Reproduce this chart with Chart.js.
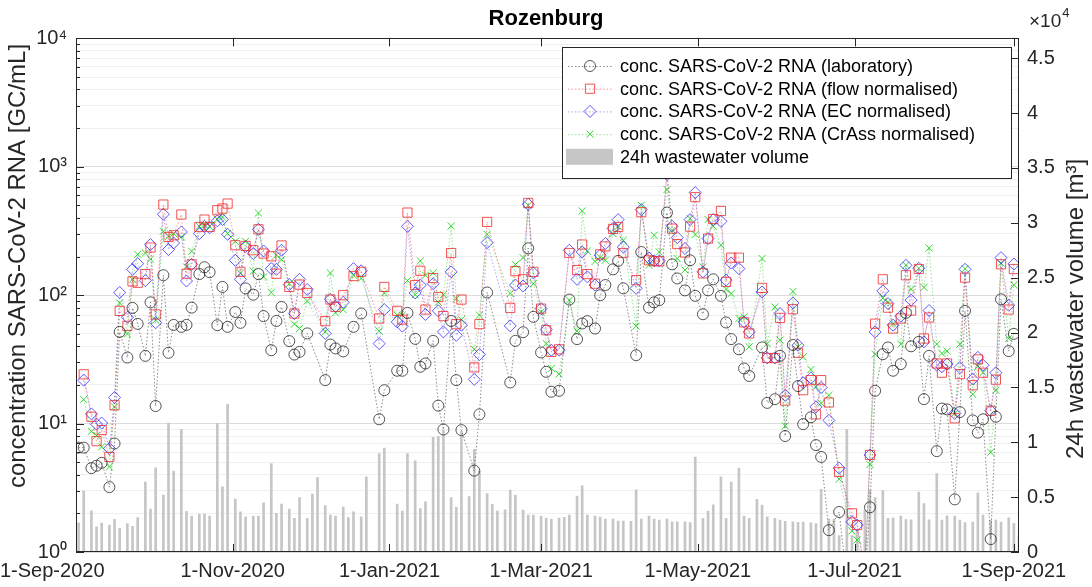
<!DOCTYPE html>
<html>
<head>
<meta charset="utf-8">
<script src="https://cdn.jsdelivr.net/npm/chart.js@4.4.1/dist/chart.umd.min.js"></script>
<style>
  html, body { margin: 0; padding: 0; background: #fff; }
  #wrap { width: 1092px; height: 587px; }
</style>
</head>
<body>
<div id="wrap"><canvas id="chart" width="1092" height="587"></canvas></div>
<script>
// sampling dates (Mon/Wed/Fri), one row per month
const dates = [
  '2020-09-02','2020-09-04','2020-09-07','2020-09-09','2020-09-11','2020-09-14','2020-09-16','2020-09-18','2020-09-21','2020-09-23','2020-09-25','2020-09-28','2020-09-30',
  '2020-10-02','2020-10-05','2020-10-07','2020-10-09','2020-10-12','2020-10-14','2020-10-16','2020-10-19','2020-10-21','2020-10-23','2020-10-26','2020-10-28','2020-10-30',
  '2020-11-02','2020-11-04','2020-11-06','2020-11-09','2020-11-11','2020-11-13','2020-11-16','2020-11-18','2020-11-20','2020-11-23','2020-11-25','2020-11-27','2020-11-30',
  '2020-12-02','2020-12-04','2020-12-07','2020-12-09','2020-12-11','2020-12-14','2020-12-16','2020-12-18','2020-12-21','2020-12-23','2020-12-28','2020-12-30',
  '2021-01-04','2021-01-06','2021-01-08','2021-01-11','2021-01-13','2021-01-15','2021-01-18','2021-01-20','2021-01-22','2021-01-25','2021-01-27','2021-01-29',
  '2021-02-01','2021-02-03','2021-02-05','2021-02-08','2021-02-10','2021-02-12','2021-02-15','2021-02-17','2021-02-19','2021-02-22','2021-02-24','2021-02-26',
  '2021-03-01','2021-03-03','2021-03-05','2021-03-08','2021-03-10','2021-03-12','2021-03-15','2021-03-17','2021-03-19','2021-03-22','2021-03-24','2021-03-26','2021-03-29','2021-03-31',
  '2021-04-02','2021-04-05','2021-04-07','2021-04-09','2021-04-12','2021-04-14','2021-04-16','2021-04-19','2021-04-21','2021-04-23','2021-04-26','2021-04-28','2021-04-30',
  '2021-05-03','2021-05-05','2021-05-07','2021-05-10','2021-05-12','2021-05-14','2021-05-17','2021-05-19','2021-05-21','2021-05-24','2021-05-26','2021-05-28','2021-05-31',
  '2021-06-02','2021-06-04','2021-06-07','2021-06-09','2021-06-11','2021-06-14','2021-06-16','2021-06-18','2021-06-21','2021-06-23','2021-06-25','2021-06-28','2021-06-30',
  '2021-07-02','2021-07-05','2021-07-07','2021-07-09','2021-07-12','2021-07-14','2021-07-16','2021-07-19','2021-07-21','2021-07-23','2021-07-26','2021-07-28','2021-07-30',
  '2021-08-02','2021-08-04','2021-08-06','2021-08-09','2021-08-11','2021-08-13','2021-08-16','2021-08-18','2021-08-20','2021-08-23','2021-08-25','2021-08-27','2021-08-30',
  '2021-09-01','2021-09-03'
];

// GC/mL
const labConc = [
  6.5, 6.5, 4.5, 4.7, 4.95, 3.2, 7.0, 51.8, 32.7, 79.6, 59.8, 33.7, 88,
  13.7, 143, 35.6, 58.7, 56.7, 58.7, 80, 146, 165, 151, 58.4, 116, 56.7,
  74, 60.9, 113, 101, 146, 68.7, 37.3, 63, 81, 43.9, 34.5, 36.2, 50.4,
  null, null, 21.8, 41.3, 38.5, 36.5, null, 56.7, 72, null, 10.8, 18.2,
  25.8, 25.8, 72.8, 45.7, 27.7, 29.4, 44.1, 13.8, 9.0, 63, 21.8, 8.9,
  null, 4.3, 11.8, 105, null, null, null, 20.9, 44.1, 51.5, 232, 67.8,
  35.8, 25.3, 17.7, 18.0, null, 92.5, 45.5, 60.2, 62.8, 55, 100, 120, 159, 185,
  113, null, 34.1, 217, 80, 88, 91.5, 440, 174, 135, 109, 187, 98.8,
  71.1, 109, 133, 98.8, 61.3, 45.5, 37.9, 26.9, 23.5, null, 39.2, 14.5, 15.5,
  33.7, 8.0, 41, 19.6, 9.9, 11.2, 6.8, 5.5, 1.48, null, 2.05, 0.6, 0.6,
  0.6, 0.6, 2.23, 18, 34.7, 39.2, 25.8, 29.1, 72.8, 40, 43.3, 15.5, 33.7,
  6.1, 13.1, 12.9, 2.57, 12.3, 75.5, 10.6, 8.5, 10.8, 1.26, 11.3, 93, 36.7,
  50, null
];
const flowConc = [
  null, 24.2, 11.3, 7.3, 8.9, 5.5, 13.9, 75.5, 57.7, 128, 125, 146, 235,
  70.8, 508, 284, 293, 425, 147, 174, 340, 388, 340, 459, 473, 517,
  245, 152, 242, 224, 326, 211, 201, 147, 244, 116, 72, 121, 104,
  null, null, 62.8, 92.5, 81, 100, null, 141, 152, null, 65.9, 116,
  75.5, 64.5, 440, 120, 155, 77.3, 136, 96.8, 68.7, 213, 59.5, 92.5,
  null, 27.4, 59.5, 372, null, null, null, 79.7, 154, 133, 523, 152,
  78.6, 53.4, 36.2, 37.9, null, 213, 157, 248, 146, 123, 208, 240, 328, 340,
  213, null, 131, 443, 187, 184, 184, 885, 330, 250, 215, 342, 580,
  148, 276, 392, 453, 127, 196, 196, 61.5, 50.4, null, 114, 32.4, 32.4,
  66.6, 15.1, 77.8, 35.6, 18.2, 21.8, 11.8, 21.8, 14.6, null, 4.2, null, 2.0,
  1.62, 0.7, 5.7, 60, 133, 80, 55, 65.9, 143, 76, 160, 46, 67,
  29.4, 24.9, 29.4, 11, 24.3, 137, 19.9, 31.6, 24.9, 12.6, 22, 174, 77.3,
  160, null
];
const ecConc = [
  null, 21.8, 11.9, 9.9, 10.1, 6.4, 16, 105, 67.4, 159, 176, 130, 248,
  61, 427, 227, 255, 311, 129, 174, 302, 344, 335, 379, 388, 298,
  187, 133, 240, 211, 326, 221, 161, 159, 224, 121, 72, 133, 111,
  null, null, 50.4, 93, 82, 88, null, 161, 155, null, 42, 77.3,
  62, 57.4, 344, 104, 120, 70.8, 123, 75.5, 51.8, 152, 48.7, 58.4,
  null, 22.1, 34.5, 257, null, null, null, 57.7, 120, 118, 511, 149,
  78.6, 54, 37.3, 37.3, null, 224, 133, 217, 139, 120, 205, 253, 331, 388,
  237, null, 113, 464, 195, 185, 185, 870, 344, 281, 231, 388, 630,
  152, 276, 388, 376, 131, 178, 161, 62, 51.8, null, 106, 32.5, 32.5,
  72, 16.6, 87, 40.8, 20.8, 22.7, 13.5, 19.1, 10.6, null, 4.5, null, 1.72,
  1.62, 0.7, 5.7, 51.8, 108, 86, 58.4, 68.7, 171, 91.5, 162, 43.3, 76,
  28.5, 27.7, 29.1, 12, 27.3, 159, 22.2, 32.8, 28.5, 12.6, 24.9, 196, 83.5,
  175, null
];
const crassConc = [
  null, 15.4, 8.7, 8.1, 6.6, 4.6, 13.5, 87, 50, 133, 208, 213, 191,
  64, 315, 288, 302, 284, 166, 220, 344, 351, 344, 390, 406, 302,
  263, 149, 263, 154, 437, 139, 105, 205, 189, 123, 59.5, 55, 90,
  null, null, 51.8, 149, 73, 77, null, 143, 135, null, 52.5, 104,
  70, 70, 130, 101, 185, 143, 149, 88, 101, 346, 94, 64.5,
  null, 37.9, 70, 298, null, null, null, 103, 173, 196, 501, 123,
  74, 42, 26.9, 24.3, null, 91.5, 52.7, 453, 221, 183, 197, 187, 302, 344,
  268, null, 57.4, 501, 171, 293, 217, 665, 320, 193, 157, 395, 297,
  166, 388, 344, 245, 111, 103, 65.9, 67.8, 39.6, null, 193, 42, 81,
  44.7, 9.6, 107, 39.6, 33.1, 26.4, 19.4, 14.4, 16.6, null, 3.7, null, 1.46,
  1.24, 0.7, 4.8, 34.7, 95, 88, 60, 41.6, 171, 111, 162, 115, 233,
  41.6, 35.2, 36.7, 12, 41.6, 161, 16.9, 28, 25, 5.98, 18.2, 178, 46,
  120, null
];
// m3 per 24h
const volume = [
  2650, 5560, 3750, 2290, 2640, 2460, 2970, 2150, 2600, 2350, 3130, 6360, 3900,
  7660, 5180, 11750, 7370, 11180, 3700, 3270, 3450, 3450, 3270, 11720, 5940, 13450,
  4820, 3660, 3210, 3270, 3270, 4490, 8060, 3520, 4360, 3910, 3060, 4950, 3060,
  5270, 6770, 4230, 3360, 3270, 4090, 3130, 3670, 3210, 6850, 8970, 9480,
  4360, 3740, 8970, 8300, 3960, 4570, 10450, 10550, 11100, 4970, 4060, 11000,
  5060, 9350, 7380, 5330, 4340, 3740, 3850, 5640, 5180, 3820, 3360, 3360,
  3270, 3090, 2970, 3100, 3150, 3360, 5090, 6030, 3360, 3270, 3180, 2990, 3000, 2820,
  2820, 2800, 5670, 3000, 3270, 2990, 2910, 3000, 2760, 2760, 2760, 2670, 8650,
  3060, 3730, 4300, 6850, 3060, 6360, 7650, 3270, 3060, 4790, 4270, 3200, 3060,
  2910, 2800, 2760, 2700, 2720, 2660, 2580, 5710, 3000, 3000, 1500, 11180, 1500,
  2000, 3800, 5640, 4950, 5600, 3060, 3120, 3270, 2950, 2930, 5450, 4420, 2930,
  7150, 2900, 3300, 3270, 2900, 2690, 2730, 5400, 3360, 2900, 2900, 2730, 3110,
  2610, 1500
];

const xTickDates = ['2020-09-01', '2020-11-01', '2021-01-01', '2021-03-01', '2021-05-01', '2021-07-01', '2021-09-01'];
const xTickLabels = ['1-Sep-2020', '1-Nov-2020', '1-Jan-2021', '1-Mar-2021', '1-May-2021', '1-Jul-2021', '1-Sep-2021'];
const yDecades = [1, 10, 100, 1000, 10000];
const yTickLabels = ['10\u2070', '10\u00b9', '10\u00b2', '10\u00b3', '10\u2074'];
const y2TickValues = [0, 5000, 10000, 15000, 20000, 25000, 30000, 35000, 40000, 45000];
const y2TickLabels = ['0', '0.5', '1', '1.5', '2', '2.5', '3', '3.5', '4', '4.5'];

const FONT = "'Liberation Sans', Arial, Helvetica, sans-serif";
const INK = '#262626';

const day0 = Date.UTC(2020, 8, 1);
function dayOf(s) {
  const [y, m, d] = s.split('-').map(Number);
  return (Date.UTC(y, m - 1, d) - day0) / 864e5;
}
function points(values) {
  return dates.map((s, i) => ({ x: dayOf(s), y: values[i] }));
}

// minor grid lines 1..9 per decade
const yGridValues = [];
yDecades.forEach((d, i) => {
  if (i === yDecades.length - 1) { yGridValues.push(d); return; }
  for (let k = 1; k < 10; k++) yGridValues.push(k * d);
});

function lineSet(label, values, color, lineColor, style, radius) {
  return {
    label, data: points(values), yAxisID: 'y',
    borderColor: lineColor, borderWidth: 1, borderDash: [1.5, 2],
    pointStyle: style, pointRadius: radius, pointBorderColor: color,
    pointBackgroundColor: 'rgba(0,0,0,0)', pointBorderWidth: 1,
    spanGaps: true, tension: 0
  };
}

function drawMarker(ctx, style, x, y, color) {
  ctx.strokeStyle = color;
  ctx.lineWidth = 1;
  ctx.setLineDash([]);
  ctx.beginPath();
  if (style === 'circle') ctx.arc(x, y, 5.5, 0, Math.PI * 2);
  else if (style === 'rect') ctx.rect(x - 4.6, y - 4.6, 9.2, 9.2);
  else if (style === 'rectRot') {
    ctx.moveTo(x, y - 6); ctx.lineTo(x + 6, y); ctx.lineTo(x, y + 6); ctx.lineTo(x - 6, y); ctx.closePath();
  } else if (style === 'crossRot') {
    ctx.moveTo(x - 3.5, y - 3.5); ctx.lineTo(x + 3.5, y + 3.5);
    ctx.moveTo(x + 3.5, y - 3.5); ctx.lineTo(x - 3.5, y + 3.5);
  }
  ctx.stroke();
}

function verticalText(ctx, text, x, y) {
  ctx.save();
  ctx.translate(x, y);
  ctx.rotate(-Math.PI / 2);
  ctx.textAlign = 'center';
  ctx.textBaseline = 'middle';
  ctx.fillText(text, 0, 0);
  ctx.restore();
}

const decor = {
  id: 'decor',
  afterDatasetsDraw(chart) {
    const { ctx, chartArea: a, scales } = chart;
    ctx.save();
    ctx.strokeStyle = INK;
    ctx.lineWidth = 1;
    ctx.beginPath();
    scales.x.ticks.forEach(t => {
      const px = Math.round(scales.x.getPixelForValue(t.value)) + 0.5;
      ctx.moveTo(px, a.bottom); ctx.lineTo(px, a.bottom - 8);
      ctx.moveTo(px, a.top); ctx.lineTo(px, a.top + 8);
    });
    scales.y.ticks.forEach(t => {
      const py = Math.round(scales.y.getPixelForValue(t.value)) + 0.5;
      ctx.moveTo(a.left, py); ctx.lineTo(a.left + (yDecades.includes(t.value) ? 8 : 4), py);
    });
    scales.y2.ticks.forEach(t => {
      const py = Math.round(scales.y2.getPixelForValue(t.value)) + 0.5;
      ctx.moveTo(a.right, py); ctx.lineTo(a.right - 8, py);
    });
    ctx.stroke();
    ctx.strokeRect(Math.round(a.left) + 0.5, Math.round(a.top) + 0.5,
      Math.round(a.right - a.left) - 1, Math.round(a.bottom - a.top) - 1);
    ctx.restore();
  },
  afterDraw(chart) {
    const { ctx, chartArea: a } = chart;
    ctx.save();
    ctx.fillStyle = INK;

    // first date label sits flush with the left edge, as in the original
    ctx.font = '20px ' + FONT;
    ctx.textAlign = 'left';
    ctx.textBaseline = 'middle';
    ctx.fillText(xTickLabels[0], 0, a.bottom + 19);

    // axis titles (both read bottom-to-top)
    ctx.font = '24px ' + FONT;
    verticalText(ctx, 'concentration SARS-CoV-2 RNA [GC/mL]', 18, 266);
    verticalText(ctx, '24h wastewater volume [m\u00b3]', 1076, 309);

    // x10^4 multiplier of the right axis
    ctx.textAlign = 'left';
    ctx.textBaseline = 'alphabetic';
    ctx.font = '19px ' + FONT;
    ctx.fillText('\u00d710', a.right + 10, 27);
    const w = ctx.measureText('\u00d710').width;
    ctx.font = '13px ' + FONT;
    ctx.fillText('4', a.right + 10 + w + 1, 17);

    // legend box
    const bx = 562, by = 47, bw = 449, bh = 131;
    ctx.fillStyle = '#fff';
    ctx.fillRect(bx, by, bw, bh);
    ctx.strokeStyle = INK;
    ctx.lineWidth = 1;
    ctx.strokeRect(bx + 0.5, by + 0.5, bw, bh);
    const rowH = 22.7;
    chart.data.datasets.forEach((ds, i) => {
      const cy = by + 19 + i * rowH;
      if (ds.type === 'bar') {
        ctx.fillStyle = ds.backgroundColor;
        ctx.fillRect(bx + 4, cy - 8, 47, 16);
      } else {
        ctx.strokeStyle = ds.borderColor;
        ctx.setLineDash([1.5, 2]);
        ctx.beginPath();
        ctx.moveTo(bx + 6, cy + 0.5); ctx.lineTo(bx + 50, cy + 0.5);
        ctx.stroke();
        drawMarker(ctx, ds.pointStyle, bx + 28, cy, ds.pointBorderColor);
      }
      ctx.fillStyle = '#000';
      ctx.font = '18px ' + FONT;
      ctx.textBaseline = 'middle';
      ctx.fillText(ds.label, bx + 58, cy + 1);
    });
    ctx.restore();
  }
};

new Chart(document.getElementById('chart'), {
  type: 'line',
  data: {
    datasets: [
      lineSet('conc. SARS-CoV-2 RNA (laboratory)', labConc, 'rgba(30,30,30,0.75)', 'rgba(60,60,60,0.6)', 'circle', 5.5),
      lineSet('conc. SARS-CoV-2 RNA (flow normalised)', flowConc, 'rgba(240,40,40,0.8)', 'rgba(235,70,70,0.55)', 'rect', 6.5),
      lineSet('conc. SARS-CoV-2 RNA (EC normalised)', ecConc, 'rgba(50,50,255,0.8)', 'rgba(90,70,235,0.5)', 'rectRot', 6),
      lineSet('conc. SARS-CoV-2 RNA (CrAss normalised)', crassConc, 'rgba(30,215,30,0.9)', 'rgba(40,210,40,0.5)', 'crossRot', 5),
      {
        type: 'bar', label: '24h wastewater volume', data: points(volume), yAxisID: 'y2',
        backgroundColor: 'rgb(198,198,198)', barThickness: 2, grouped: false
      }
    ]
  },
  options: {
    responsive: false,
    animation: false,
    devicePixelRatio: 1,
    layout: { padding: { top: 1, left: 0, right: 0, bottom: 0 } },
    plugins: {
      legend: { display: false },
      tooltip: { enabled: false },
      title: {
        display: true, text: 'Rozenburg', color: '#000',
        font: { family: FONT, size: 22, weight: 'bold' },
        padding: { top: 5, bottom: 6 }
      }
    },
    scales: {
      x: {
        type: 'linear', min: 0, max: 367, offset: false,
        grid: { display: false, drawTicks: false },
        border: { display: false },
        afterBuildTicks: s => { s.ticks = xTickDates.map(d => ({ value: dayOf(d) })); },
        afterFit: s => { s.height = 35; },
        ticks: {
          autoSkip: false, maxRotation: 0, padding: 7, color: INK,
          font: { family: FONT, size: 20 },
          callback: (v, i) => i === 0 ? '' : xTickLabels[i]
        }
      },
      y: {
        type: 'logarithmic', position: 'left', min: 1, max: 10000,
        border: { display: false },
        grid: {
          drawTicks: false,
          color: c => yDecades.includes(c.tick.value) ? '#dcdcdc' : '#efefef'
        },
        afterBuildTicks: s => { s.ticks = yGridValues.map(v => ({ value: v })); },
        afterFit: s => { s.width = 76; },
        ticks: {
          autoSkip: false, padding: 9, color: INK,
          font: { family: FONT, size: 20 },
          callback: v => { const i = yDecades.indexOf(v); return i >= 0 ? yTickLabels[i] : ''; }
        }
      },
      y2: {
        type: 'linear', position: 'right', min: 0, max: 46800,
        border: { display: false },
        grid: { drawOnChartArea: false, drawTicks: false },
        afterBuildTicks: s => { s.ticks = y2TickValues.map(v => ({ value: v })); },
        afterFit: s => { s.width = 73; },
        ticks: {
          autoSkip: false, padding: 8, color: INK,
          font: { family: FONT, size: 20 },
          callback: (v, i) => y2TickLabels[i]
        }
      }
    }
  },
  plugins: [decor]
});
</script>
</body>
</html>
